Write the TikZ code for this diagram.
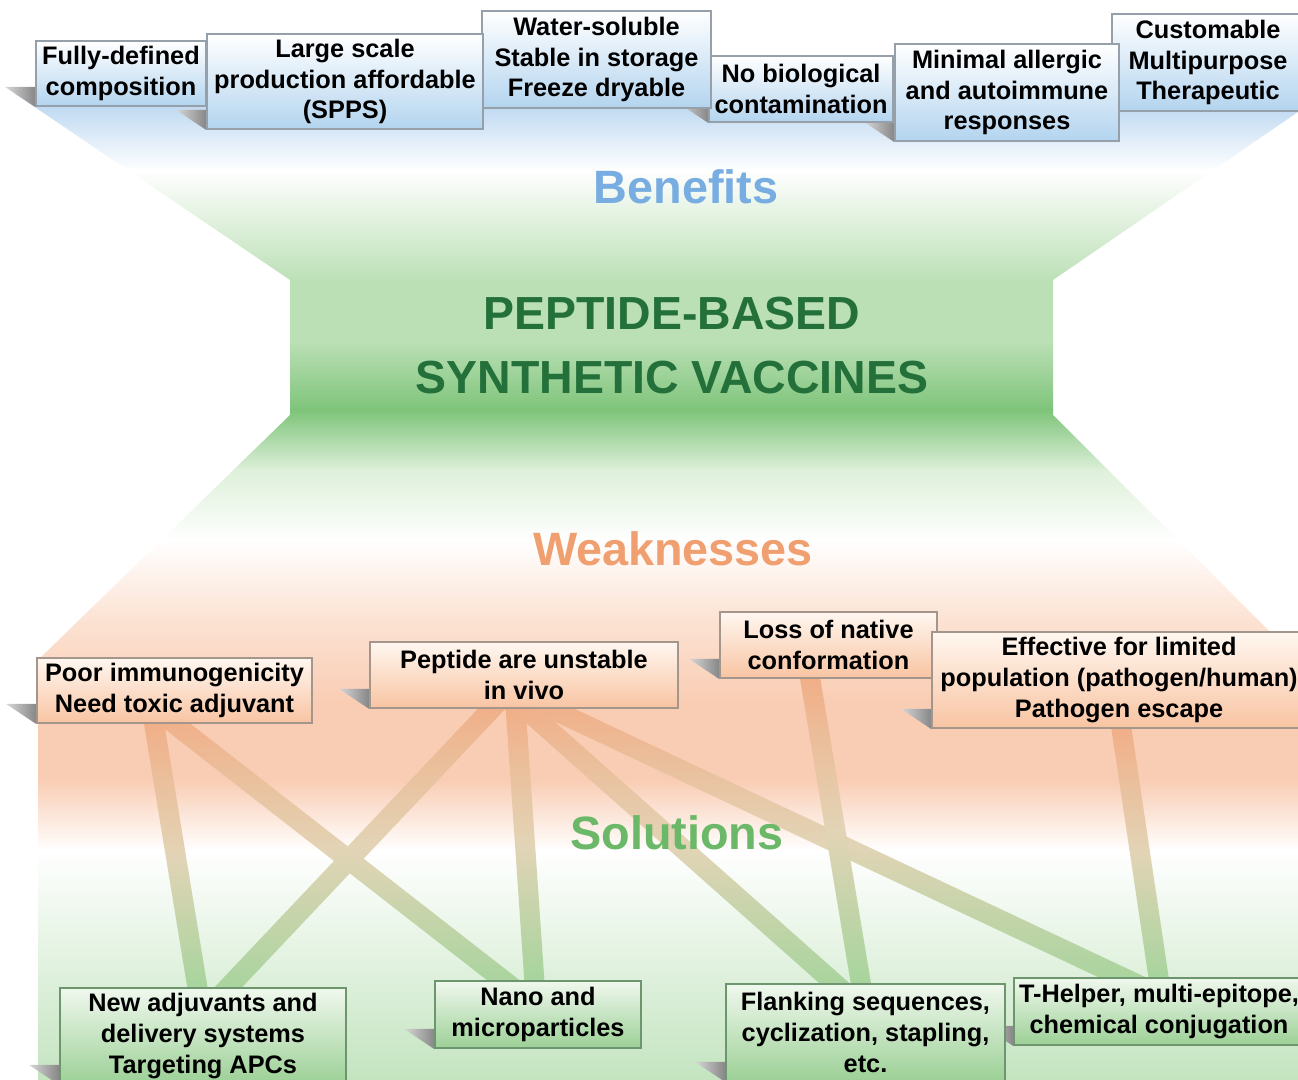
\documentclass[tikz,border=0pt]{standalone}
\usepackage{fontspec}
\setmainfont{Liberation Sans}
\usetikzlibrary{calc}

\definecolor{benbot}{RGB}{179,212,239}
\definecolor{bendraw}{RGB}{150,160,170}
\definecolor{weaktop}{RGB}{255,247,240}
\definecolor{weakbot}{RGB}{248,196,162}
\definecolor{weakdraw}{RGB}{165,150,140}
\definecolor{soltop}{RGB}{240,248,238}
\definecolor{solbot}{RGB}{156,208,150}
\definecolor{soldraw}{RGB}{110,150,110}
\definecolor{bgblue}{RGB}{176,208,238}
\definecolor{bggreenl}{RGB}{188,224,182}
\definecolor{bggreend}{RGB}{126,196,122}
\definecolor{bggreenp}{RGB}{222,240,218}
\definecolor{bgorangel}{RGB}{252,226,211}
\definecolor{bgorange}{RGB}{249,205,180}
\definecolor{bgsol}{RGB}{195,228,191}
\definecolor{bandtop}{RGB}{242,172,132}
\definecolor{bandmid}{RGB}{226,212,182}
\definecolor{bandbot}{RGB}{162,212,155}
\definecolor{shadowd}{RGB}{135,135,135}
\definecolor{shadowl}{RGB}{215,215,215}
\definecolor{bentitle}{RGB}{120,173,225}
\definecolor{maintitle}{RGB}{35,112,58}
\definecolor{weaktitle}{RGB}{240,160,112}
\definecolor{soltitle}{RGB}{107,184,104}

\pgfdeclarelayer{bg}
\pgfdeclarelayer{shd}
\pgfsetlayers{bg,shd,main}

\newcommand{\boxfont}{\fontsize{7.2}{8.8}\selectfont\bfseries}
\newcommand{\ttlfont}{\fontsize{13.3}{16}\selectfont\bfseries}

\newcommand{\band}[4]{%
  \coordinate (p) at ($(#1.south)+(#2,-10)$);
  \coordinate (q) at ($(#3.north)+(#4,10)$);
  \shade[top color=bandtop, bottom color=bandbot, middle color=bandmid]
    ($(p)!0.1cm!90:(q)$) -- ($(q)!0.1cm!-90:(p)$) -- ($(q)!0.1cm!90:(p)$) -- ($(p)!0.1cm!-90:(q)$) -- cycle;}

\newcommand{\boxshade}[1]{%
  \shade[left color=shadowl, right color=shadowd] (#1.south west) -- ++(0,-20) -- ++(-30,0) -- cycle;}

\begin{document}
\begin{tikzpicture}[x=0.01cm, y=-0.01cm,
  ben/.style={draw=bendraw, line width=0.5pt, top color=white, bottom color=benbot, align=center, inner sep=0pt, font=\boxfont},
  weak/.style={draw=weakdraw, line width=0.5pt, top color=weaktop, bottom color=weakbot, align=center, inner sep=0pt, font=\boxfont},
  sol/.style={draw=soldraw, line width=0.5pt, top color=soltop, bottom color=solbot, align=center, inner sep=0pt, font=\boxfont},
  ttl/.style={font=\ttlfont, inner sep=0pt}]
  \useasboundingbox (0,0) rectangle (1298,1080);

  \node[ben, minimum width=1.92cm, minimum height=0.97cm] (b6) at (1208,62.5) {Customable\\Multipurpose\\Therapeutic};
  \node[ben, minimum width=2.24cm, minimum height=0.97cm] (b5) at (1007,92.5) {Minimal allergic\\and autoimmune\\responses};
  \node[ben, minimum width=1.84cm, minimum height=0.66cm] (b4) at (801,89) {No biological\\contamination};
  \node[ben, minimum width=2.29cm, minimum height=0.97cm] (b3) at (596.5,59.5) {Water-soluble\\Stable in storage\\Freeze dryable};
  \node[ben, minimum width=2.76cm, minimum height=0.95cm] (b2) at (345,81.5) {Large scale\\production affordable\\(SPPS)};
  \node[ben, minimum width=1.70cm, minimum height=0.65cm] (b1) at (121,73.5) {Fully-defined\\composition};

  \node[ttl, text=bentitle] (ben) at (686,187) {Benefits};
  \node[font=\fontsize{13.2}{18.2}\selectfont\bfseries, text=maintitle, align=center, inner sep=0pt] (pbsv) at (672,346) {PEPTIDE-BASED\\SYNTHETIC VACCINES};
  \node[ttl, text=weaktitle] (weak) at (673,549) {Weaknesses};
  \node[ttl, text=soltitle] (sol) at (677,833) {Solutions};

  \node[weak, minimum width=2.75cm, minimum height=0.65cm] (w1) at (174.5,690.5) {Poor immunogenicity\\Need toxic adjuvant};
  \node[weak, minimum width=3.08cm, minimum height=0.66cm] (w2) at (524,675) {Peptide are unstable\\in vivo};
  \node[weak, minimum width=2.17cm, minimum height=0.66cm] (w3) at (828.5,645) {Loss of native\\conformation};
  \node[weak, minimum width=3.74cm, minimum height=0.96cm] (w4) at (1119,680) {Effective for limited\\population (pathogen/human)\\Pathogen escape};

  \node[sol, minimum width=2.86cm, minimum height=0.96cm] (s1) at (203,1036) {New adjuvants and\\delivery systems\\Targeting APCs};
  \node[sol, minimum width=2.06cm, minimum height=0.67cm] (s2) at (538,1014.5) {Nano and\\microparticles};
  \node[sol, minimum width=2.79cm, minimum height=0.97cm] (s3) at (865.5,1032.5) {Flanking sequences,\\cyclization, stapling,\\etc.};
  \node[sol, minimum width=2.90cm, minimum height=0.67cm] (s4) at (1159,1011.5) {T-Helper, multi-epitope,\\chemical conjugation};

  \begin{pgfonlayer}{shd}
    \foreach \b in {b1,b2,b3,b4,b5,b6,w1,w2,w3,w4,s1,s2,s3,s4}
      \boxshade{\b};
  \end{pgfonlayer}

  \begin{pgfonlayer}{bg}
    \begin{scope}
      \clip (14,93) -- (1298,93) -- (1298,112) -- (1053,280) -- (1053,415) -- (1298,660) -- (1298,1080)
        -- (38,1080) -- (38,660) -- (290,415) -- (290,280) -- cycle;
      \shade[top color=bgblue, bottom color=white] (0,90) rectangle (1298,171);
      \shade[top color=white, bottom color=bggreenl] (0,170) rectangle (1298,281);
      \fill[bggreenl] (0,280) rectangle (1298,341);
      \shade[top color=bggreenl, bottom color=bggreend] (0,340) rectangle (1298,411);
      \shade[top color=bggreend, bottom color=bggreenp] (0,410) rectangle (1298,471);
      \shade[top color=bggreenp, bottom color=white] (0,470) rectangle (1298,541);
      \shade[top color=white, bottom color=bgorangel] (0,540) rectangle (1298,621);
      \shade[top color=bgorangel, bottom color=bgorange] (0,620) rectangle (1298,701);
      \fill[bgorange] (0,700) rectangle (1298,781);
      \shade[top color=bgorange, bottom color=white] (0,780) rectangle (1298,851);
      \shade[top color=white, bottom color=bgsol] (0,850) rectangle (1298,1082);
    \end{scope}
    \band{w1}{-22}{s1}{-4}
    \band{w1}{-13}{s2}{-22}
    \band{w2}{-23}{s1}{16}
    \band{w2}{-9}{s2}{-3}
    \band{w2}{-10}{s3}{-20}
    \band{w2}{6}{s4}{-16}
    \band{w3}{-20}{s3}{-3}
    \band{w4}{1}{s4}{1}
  \end{pgfonlayer}
\end{tikzpicture}
\end{document}
